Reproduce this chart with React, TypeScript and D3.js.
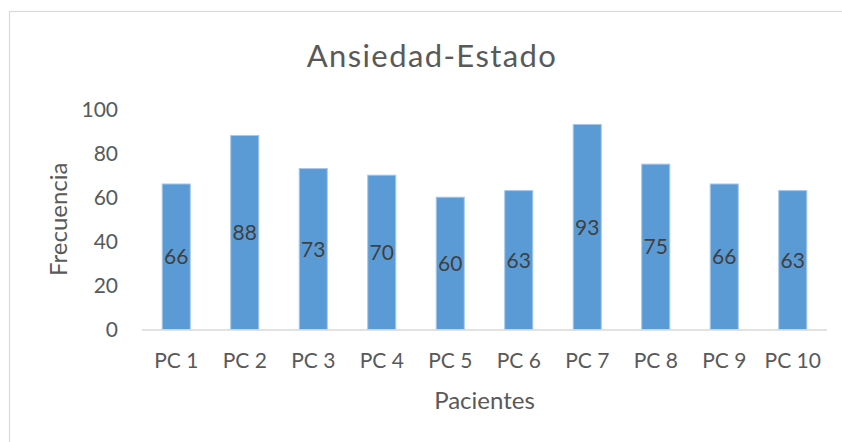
import React, { useEffect, useRef } from "react";
import * as d3 from "d3";

// Chart data
const categories = ["PC 1", "PC 2", "PC 3", "PC 4", "PC 5", "PC 6", "PC 7", "PC 8", "PC 9", "PC 10"];
const frecuencia = [66, 88, 73, 70, 60, 63, 93, 75, 66, 63];
const yTicks = [0, 20, 40, 60, 80, 100];

const App = () => {
  const svgRef = useRef<SVGSVGElement | null>(null);

  useEffect(() => {
    const root = d3.select(svgRef.current);
    root.selectAll("*").remove();

    const font = "Lato, 'Open Sans', sans-serif";
    const textColor = "#595959";

    // chart frame (right/bottom edges run off the picture)
    root
      .append("rect")
      .attr("x", 9.5)
      .attr("y", 11.5)
      .attr("width", 850)
      .attr("height", 450)
      .attr("fill", "#fff")
      .attr("stroke", "#d9d9d9")
      .attr("stroke-width", 1.2);

    // plot area
    const left = 142;
    const right = 827;
    const top = 109;
    const bottom = 329.5;

    const x = d3.scaleBand().domain(categories).range([left, right]).paddingInner(0.59).paddingOuter(0.295);
    const y = d3.scaleLinear().domain([0, 100]).range([bottom, top]);

    // y tick labels (no gridlines)
    root
      .append("g")
      .selectAll("text")
      .data(yTicks)
      .enter()
      .append("text")
      .attr("x", 118)
      .attr("y", (d) => y(d))
      .attr("dy", "0.36em")
      .attr("text-anchor", "end")
      .style("font-family", font)
      .style("font-size", "21px")
      .attr("fill", textColor)
      .text((d) => d);

    // bars
    root
      .append("g")
      .selectAll("rect")
      .data(frecuencia)
      .enter()
      .append("rect")
      .attr("x", (_d, i) => x(categories[i])!)
      .attr("y", (d) => y(d))
      .attr("width", x.bandwidth())
      .attr("height", (d) => y(0) - y(d))
      .attr("fill", "#5b9bd5")
      .attr("stroke", "#a9c8ea")
      .attr("stroke-width", 1);

    // x axis line
    root
      .append("line")
      .attr("x1", left)
      .attr("x2", right)
      .attr("y1", y(0) + 0.5)
      .attr("y2", y(0) + 0.5)
      .attr("stroke", "#d9d9d9")
      .attr("stroke-width", 1.5);

    // data labels centred in each bar
    root
      .append("g")
      .selectAll("text")
      .data(frecuencia)
      .enter()
      .append("text")
      .attr("x", (_d, i) => x(categories[i])! + x.bandwidth() / 2)
      .attr("y", (d) => (y(d) + y(0)) / 2)
      .attr("dy", "0.36em")
      .attr("text-anchor", "middle")
      .style("font-family", font)
      .style("font-size", "21px")
      .attr("fill", "#404040")
      .text((d) => d);

    // category labels
    root
      .append("g")
      .selectAll("text")
      .data(categories)
      .enter()
      .append("text")
      .attr("x", (d) => x(d)! + x.bandwidth() / 2)
      .attr("y", 368)
      .attr("text-anchor", "middle")
      .style("font-family", font)
      .style("font-size", "21px")
      .attr("fill", textColor)
      .text((d) => d);

    // axis titles
    root
      .append("text")
      .attr("x", (left + right) / 2)
      .attr("y", 408.5)
      .attr("text-anchor", "middle")
      .style("font-family", font)
      .style("font-size", "24px")
      .attr("fill", textColor)
      .text("Pacientes");

    root
      .append("text")
      .attr("transform", `translate(67, ${(top + bottom) / 2}) rotate(-90)`)
      .attr("text-anchor", "middle")
      .style("font-family", font)
      .style("font-size", "24px")
      .attr("fill", textColor)
      .text("Frecuencia");

    // title
    root
      .append("text")
      .attr("x", 432)
      .attr("y", 66.5)
      .attr("text-anchor", "middle")
      .style("font-family", font)
      .style("font-size", "31px")
      .style("letter-spacing", "1.4px")
      .attr("fill", textColor)
      .text("Ansiedad-Estado");
  }, []);

  return (
    <div>
      <svg
        ref={svgRef}
        width={842}
        height={442}
        style={{ position: "absolute", left: 0, top: 0, display: "block" }}
      ></svg>
    </div>
  );
};

export default App;
